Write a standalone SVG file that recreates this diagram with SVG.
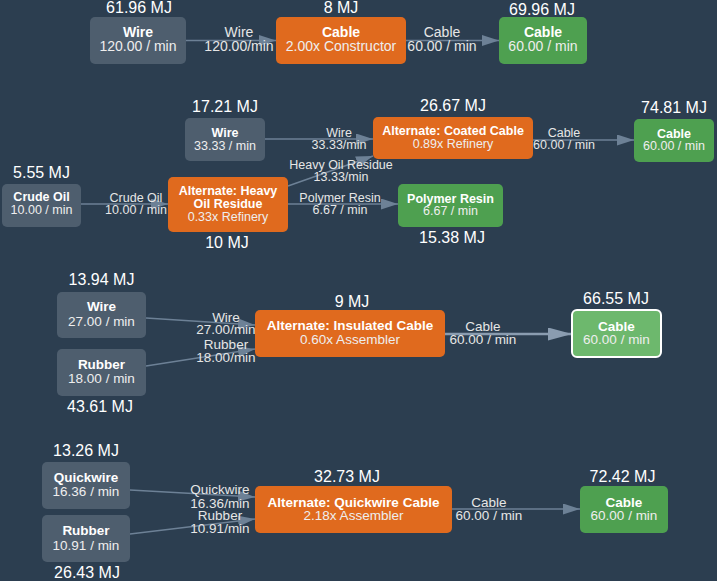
<svg xmlns="http://www.w3.org/2000/svg" width="717" height="581" viewBox="0 0 717 581">
<style>
text{font-family:"Liberation Sans",Arial,sans-serif;text-anchor:middle}
.bg{fill:#2c3e50}
.item{fill:#4e5e6e}
.rec{fill:#e06a1e}
.out{fill:#4ea050}
.hl{fill:#6db86d;stroke:#ffffff;stroke-width:2}
.t{fill:#ffffff;font-weight:bold}
.s{fill:#eeeeee}
.mj{fill:#ffffff;font-size:16px}
.e{stroke:#6d8196;stroke-width:1.5;fill:none}
.eh{stroke:#8a9cb0;stroke-width:2.5;fill:none}
.lb{fill:#e6e6e6}
.f14{font-size:14px}
.f13{font-size:13.5px}
.f12{font-size:12.5px}
</style>
<defs>
<marker id="ar" markerUnits="userSpaceOnUse" markerWidth="17" markerHeight="11" refX="17" refY="5.5" orient="auto"><path d="M0,0 L17,5.5 L0,11 z" fill="#6d8196"/></marker>
<marker id="arh" markerUnits="userSpaceOnUse" markerWidth="24" markerHeight="13" refX="24" refY="6.5" orient="auto"><path d="M0,0 L24,6.5 L0,13 z" fill="#8a9cb0"/></marker>
</defs>
<rect class="bg" x="0" y="0" width="717" height="581"/>

<g id="connectors">
<line class="e" x1="186" y1="40.5" x2="276" y2="40.5" marker-end="url(#ar)"/>
<line class="e" x1="406" y1="40.5" x2="499" y2="40.5" marker-end="url(#ar)"/>
<line class="e" x1="265" y1="139" x2="373" y2="139" marker-end="url(#ar)"/>
<line class="e" x1="533" y1="140" x2="634" y2="140" marker-end="url(#ar)"/>
<line class="e" x1="81" y1="204" x2="168" y2="204" marker-end="url(#ar)"/>
<line class="e" x1="288" y1="186" x2="373" y2="156" marker-end="url(#ar)"/>
<line class="e" x1="288" y1="204" x2="398" y2="204" marker-end="url(#ar)"/>
<line class="e" x1="146" y1="318" x2="255" y2="325" marker-end="url(#ar)"/>
<line class="e" x1="146" y1="366" x2="255" y2="349" marker-end="url(#ar)"/>
<line class="eh" x1="445" y1="334" x2="572" y2="334" marker-end="url(#arh)"/>
<line class="e" x1="130" y1="490" x2="255" y2="497" marker-end="url(#ar)"/>
<line class="e" x1="130" y1="534" x2="255" y2="519" marker-end="url(#ar)"/>
<line class="e" x1="452" y1="509" x2="580" y2="509" marker-end="url(#ar)"/>
<g class="lb f14">
<text x="239" y="37">Wire</text><text x="239" y="51">120.00/min</text>
<text x="442" y="37">Cable</text><text x="442" y="51">60.00 / min</text>
</g>
<g class="lb f12">
<text x="339" y="137">Wire</text><text x="339" y="149">33.33/min</text>
<text x="564" y="137">Cable</text><text x="564" y="149">60.00 / min</text>
<text x="136" y="202">Crude Oil</text><text x="136" y="214">10.00 / min</text>
<text x="341" y="169">Heavy Oil Residue</text><text x="341" y="181">13.33/min</text>
<text x="340" y="202">Polymer Resin</text><text x="340" y="214">6.67 / min</text>
</g>
<g class="lb f13">
<text x="226" y="322">Wire</text><text x="226" y="334">27.00/min</text>
<text x="226" y="349">Rubber</text><text x="226" y="362">18.00/min</text>
<text x="483" y="331">Cable</text><text x="483" y="344">60.00 / min</text>
<text x="220" y="494">Quickwire</text><text x="220" y="508">16.36/min</text>
<text x="220" y="520">Rubber</text><text x="220" y="533">10.91/min</text>
<text x="489" y="507">Cable</text><text x="489" y="520">60.00 / min</text>
</g>
</g>

<!-- Section 1 -->
<g id="s1-wire"><rect class="item" x="90" y="17" width="96" height="47" rx="5"/><text class="mj" x="139" y="12.5">61.96 MJ</text><text class="t f14" x="138" y="37">Wire</text><text class="s f14" x="138" y="51">120.00 / min</text></g>
<g id="s1-cable-recipe"><rect class="rec" x="276" y="17" width="130" height="47" rx="5"/><text class="mj" x="341" y="13">8 MJ</text><text class="t f14" x="341" y="37">Cable</text><text class="s f14" x="341" y="51">2.00x Constructor</text></g>
<g id="s1-cable-out"><rect class="out" x="499" y="17" width="88" height="47" rx="5"/><text class="mj" x="542" y="15">69.96 MJ</text><text class="t f14" x="543" y="37">Cable</text><text class="s f14" x="543" y="51">60.00 / min</text></g>

<!-- Section 2 -->
<g id="s2-wire"><rect class="item" x="185" y="118" width="80" height="43" rx="5"/><text class="mj" x="225" y="112">17.21 MJ</text><text class="t f12" x="225" y="137">Wire</text><text class="s f12" x="225" y="150">33.33 / min</text></g>
<g id="s2-coated"><rect class="rec" x="373" y="117" width="160" height="42" rx="5"/><text class="mj" x="453" y="111">26.67 MJ</text><text class="t f12" x="453" y="135">Alternate: Coated Cable</text><text class="s f12" x="453" y="148">0.89x Refinery</text></g>
<g id="s2-cable-out"><rect class="out" x="634" y="119" width="80" height="43" rx="5"/><text class="mj" x="674" y="113">74.81 MJ</text><text class="t f12" x="674" y="138">Cable</text><text class="s f12" x="674" y="150">60.00 / min</text></g>
<g id="s2-crude"><rect class="item" x="2" y="184" width="79" height="43" rx="5"/><text class="mj" x="41.5" y="178">5.55 MJ</text><text class="t f12" x="41.5" y="201">Crude Oil</text><text class="s f12" x="41.5" y="214">10.00 / min</text></g>
<g id="s2-heavy"><rect class="rec" x="168" y="177" width="120" height="55" rx="5"/><text class="t f12" x="228" y="195">Alternate: Heavy</text><text class="t f12" x="228" y="208">Oil Residue</text><text class="s f12" x="228" y="221">0.33x Refinery</text><text class="mj" x="227" y="248">10 MJ</text></g>
<g id="s2-polymer"><rect class="out" x="398" y="184" width="105" height="43" rx="5"/><text class="t f12" x="450.5" y="203">Polymer Resin</text><text class="s f12" x="450.5" y="215">6.67 / min</text><text class="mj" x="452" y="243">15.38 MJ</text></g>

<!-- Section 3 -->
<g id="s3-wire"><rect class="item" x="57" y="292" width="89" height="46" rx="5"/><text class="mj" x="101.5" y="285">13.94 MJ</text><text class="t f13" x="101.5" y="311">Wire</text><text class="s f13" x="101.5" y="326">27.00 / min</text></g>
<g id="s3-rubber"><rect class="item" x="57" y="349" width="89" height="47" rx="5"/><text class="t f13" x="101.5" y="369">Rubber</text><text class="s f13" x="101.5" y="383">18.00 / min</text><text class="mj" x="100" y="412">43.61 MJ</text></g>
<g id="s3-insulated"><rect class="rec" x="255" y="310" width="190" height="47" rx="5"/><text class="mj" x="352" y="307">9 MJ</text><text class="t f13" x="350" y="330">Alternate: Insulated Cable</text><text class="s f13" x="350" y="344">0.60x Assembler</text></g>
<g id="s3-cable-out"><rect class="hl" x="572" y="310" width="89" height="47" rx="5"/><text class="mj" x="616" y="304">66.55 MJ</text><text class="t f13" x="616.5" y="331">Cable</text><text class="s f13" x="616.5" y="344">60.00 / min</text></g>

<!-- Section 4 -->
<g id="s4-quickwire"><rect class="item" x="42" y="462" width="88" height="47" rx="5"/><text class="mj" x="86" y="456">13.26 MJ</text><text class="t f13" x="86" y="482">Quickwire</text><text class="s f13" x="86" y="496">16.36 / min</text></g>
<g id="s4-rubber"><rect class="item" x="42" y="515" width="88" height="47" rx="5"/><text class="t f13" x="86" y="535">Rubber</text><text class="s f13" x="86" y="550">10.91 / min</text><text class="mj" x="87" y="578">26.43 MJ</text></g>
<g id="s4-quickwire-cable"><rect class="rec" x="255" y="486" width="197" height="47" rx="5"/><text class="mj" x="347" y="482">32.73 MJ</text><text class="t f13" x="353.5" y="507">Alternate: Quickwire Cable</text><text class="s f13" x="353.5" y="520">2.18x Assembler</text></g>
<g id="s4-cable-out"><rect class="out" x="580" y="486" width="88" height="47" rx="5"/><text class="mj" x="622.5" y="482">72.42 MJ</text><text class="t f13" x="624" y="507">Cable</text><text class="s f13" x="624" y="520">60.00 / min</text></g>
</svg>
